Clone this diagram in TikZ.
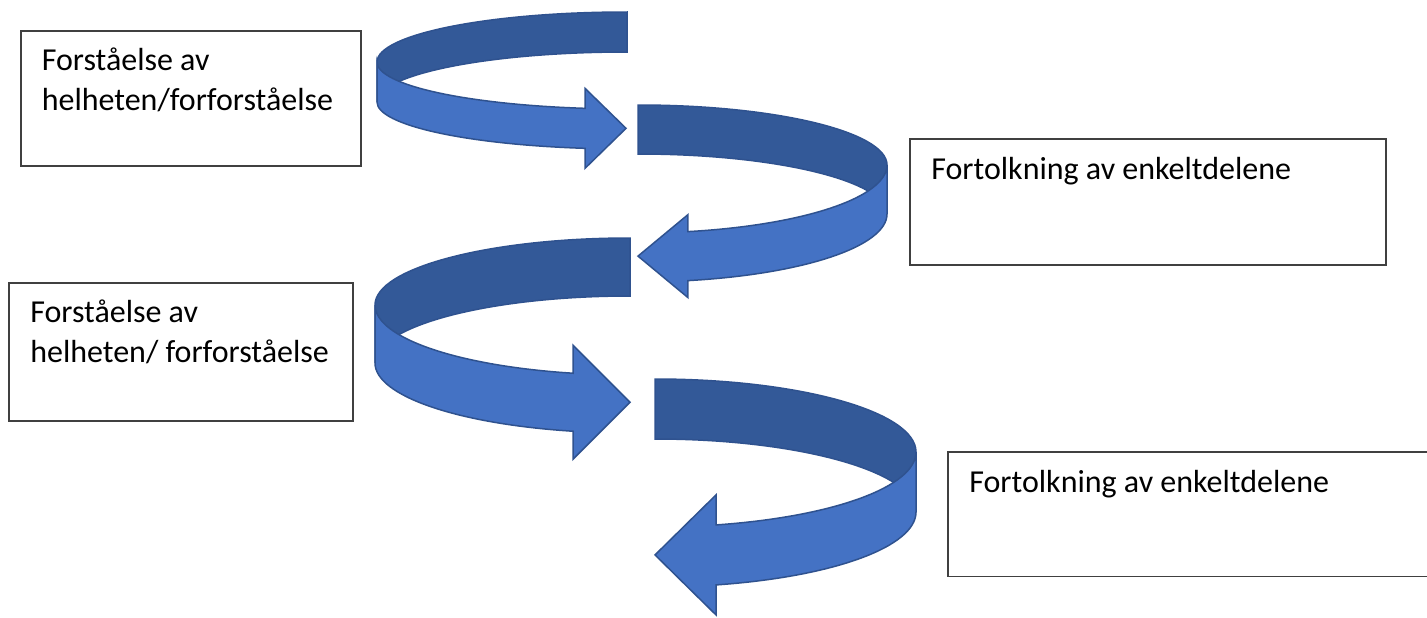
\documentclass[tikz,border=0pt]{standalone}
\usepackage{fontspec}
\setmainfont{Carlito}
\definecolor{bandback}{RGB}{51,89,152}
\definecolor{bandfront}{RGB}{68,114,196}
\definecolor{bandline}{RGB}{47,82,143}

\begin{document}
\begin{tikzpicture}[
  x=0.2mm, y=-0.2mm,
  box/.style={
    draw=black!75,
    line width=0.3mm,
    fill=white,
    anchor=north west,
    inner sep=0pt
  },
  txt/.style={
    anchor=north west,
    align=left,
    inner sep=0pt,
    font=\fontsize{18.2}{22.8}\selectfont
  },
  back/.style={fill=bandback, draw=bandline, line width=0.3mm},
  front/.style={fill=bandfront, draw=bandline, line width=0.3mm}
]
  \useasboundingbox (0,0) rectangle (1427,617);

  \node[box, minimum width=68mm, minimum height=27mm] (hel1) at (20,30) {};
  \node[box, minimum width=95.2mm, minimum height=25.2mm] (del1) at (909,138) {};
  \node[box, minimum width=68.8mm, minimum height=27.6mm] (hel2) at (8,282) {};
  \node[box, minimum width=97mm, minimum height=24.9mm] (del2) at (947,451) {};

  \node[txt] (hel1txt) at (41.5,47.5) {Forståelse av\\helheten/forforståelse};
  \node[txt] (del1txt) at (931,156.5) {Fortolkning av enkeltdelene};
  \node[txt] (hel2txt) at (30,299.5) {Forståelse av\\helheten/ forforståelse};
  \node[txt] (del2txt) at (969,469.5) {Fortolkning av enkeltdelene};

  \filldraw[back] (627,12) arc[start angle=270, end angle=180, x radius=250, y radius=50]
    -- ++(0,40) arc[start angle=180, end angle=270, x radius=250, y radius=50] -- cycle;
  \filldraw[front] (377,62) arc[start angle=180, end angle=99.67, x radius=250, y radius=47]
    -- ++(0,-20) -- ++(41,40) -- ++(-41,40) -- ++(0,-20)
    arc[start angle=99.67, end angle=180, x radius=250, y radius=47] -- cycle;

  \filldraw[back] (638,105) arc[start angle=270, end angle=360, x radius=249, y radius=60]
    -- ++(0,49) arc[start angle=360, end angle=270, x radius=249, y radius=60] -- cycle;
  \filldraw[front] (887,165) arc[start angle=0, end angle=78.42, x radius=249, y radius=68]
    -- ++(0,-17) -- ++(-50,41.5) -- ++(50,41.5) -- ++(0,-17)
    arc[start angle=78.42, end angle=0, x radius=249, y radius=68] -- cycle;

  \filldraw[back] (630,238) arc[start angle=270, end angle=180, x radius=255, y radius=67]
    -- ++(0,58) arc[start angle=180, end angle=270, x radius=255, y radius=67] -- cycle;
  \filldraw[front] (375,305) arc[start angle=180, end angle=102.92, x radius=255, y radius=70]
    -- ++(0,-28) -- ++(57,57) -- ++(-57,57) -- ++(0,-28)
    arc[start angle=102.92, end angle=180, x radius=255, y radius=70] -- cycle;

  \filldraw[back] (655,379) arc[start angle=270, end angle=360, x radius=261, y radius=73]
    -- ++(0,60) arc[start angle=360, end angle=270, x radius=261, y radius=73] -- cycle;
  \filldraw[front] (916,452) arc[start angle=0, end angle=76.48, x radius=261, y radius=75]
    -- ++(0,-30) -- ++(-61,60) -- ++(61,60) -- ++(0,-30)
    arc[start angle=76.48, end angle=0, x radius=261, y radius=75] -- cycle;
\end{tikzpicture}
\end{document}
